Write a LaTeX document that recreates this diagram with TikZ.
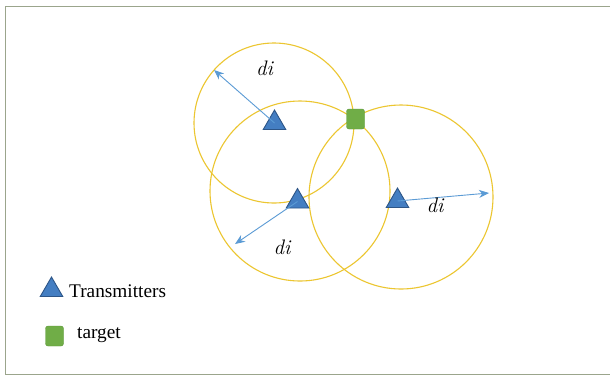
\documentclass[tikz,border=0pt]{standalone}
\usepackage{fontspec}
\setmainfont{Liberation Serif}
\newfontfamily\lmfont{Latin Modern Roman}
\usetikzlibrary{shapes.geometric,arrows.meta}
\definecolor{ringc}{RGB}{236,198,48}
\definecolor{txblue}{RGB}{68,126,194}
\definecolor{txedge}{RGB}{45,85,135}
\definecolor{tggreen}{RGB}{112,173,71}
\definecolor{tgedge}{RGB}{90,150,55}
\definecolor{arrc}{RGB}{91,155,213}
\definecolor{framec}{RGB}{155,165,140}
\tikzset{
  ring/.style={draw=ringc, line width=1.1pt},
  tx/.style={regular polygon, regular polygon sides=3, minimum size=26pt, inner sep=0pt,
             fill=txblue, draw=txedge, line width=0.9pt},
  tg/.style={rectangle, rounded corners=2.5pt, minimum width=18pt, minimum height=20pt,
             inner sep=0pt, fill=tggreen, draw=tgedge, line width=0.4pt},
  rangearrow/.style={draw=arrc, line width=0.9pt, -{Stealth[length=10pt,width=8pt]}},
  dlabel/.style={font=\lmfont\itshape\fontsize{21}{24}\selectfont, inner sep=0pt},
  legtext/.style={font=\fontsize{19.3}{22}\selectfont, anchor=base west, inner sep=0pt}
}
\begin{document}
\begin{tikzpicture}[x=1pt,y=-1pt]
\useasboundingbox (0,0) rectangle (610,376);
\fill[white] (0,0) rectangle (610,376);
\draw[framec, line width=1pt] (615,6) -- (5,6) -- (5,374) -- (615,374);
% range circles
\draw[ring] (274,123) circle (80);
\draw[ring] (300,191) circle (90);
\draw[ring] (401,197) circle (92);
% transmitters (node centre = circumcentre)
\node[tx] (t1) at (274.5,123) {};
\node[tx] (t2) at (297.5,201.5) {};
\node[tx] (t3) at (397.5,201) {};
% target
\node[tg] (tg) at (355.5,119) {};
% range arrows
\coordinate (e1) at (214,70);
\coordinate (e2) at (235,244);
\coordinate (e3) at (489,193);
\draw[rangearrow] (t1.center) -- (e1);
\draw[rangearrow] (t2.center) -- (e2);
\draw[rangearrow] (t3.center) -- (e3);
\node[dlabel] (l1) at (264.5,68) {di};
\node[dlabel] (l2) at (282,247) {di};
\node[dlabel] (l3) at (435,205) {di};
% legend
\node[tx] (lt) at (51.5,290) {};
\node[legtext] (ltt) at (69,297) {Transmitters};
\node[tg] (ls) at (54.5,336) {};
\node[legtext] (lst) at (77,338) {target};
\end{tikzpicture}
\end{document}
